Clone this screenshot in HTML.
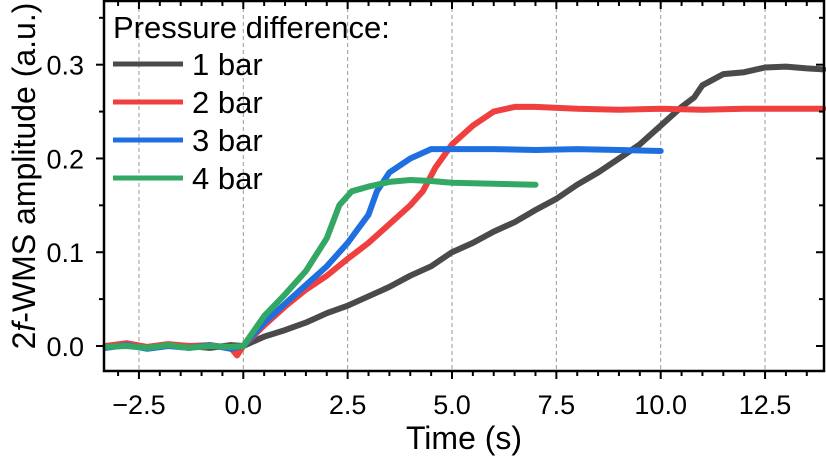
<!DOCTYPE html>
<html><head><meta charset="utf-8"><style>
html,body{margin:0;padding:0;background:#fff;}
svg{display:block;font-family:"Liberation Sans",Arial,sans-serif;}
</style></head><body>
<svg id="chart" width="826" height="457" viewBox="0 0 826 457" xmlns="http://www.w3.org/2000/svg">
<g id="grid"></g>
<g id="series"></g>
<rect x="104" y="1" width="720" height="370" fill="none" stroke="#000" stroke-width="2.5"/>
<g id="ticks"></g>
<text x="464" y="449" font-size="32" text-anchor="middle">Time (s)</text>
<text transform="translate(35,176) rotate(-90)" font-size="32" text-anchor="middle">2<tspan font-style="italic">f</tspan>-WMS amplitude (a.u.)</text>
<g>
<text x="113" y="38" font-size="31">Pressure difference:</text>
</g>
<g id="legend-entries"></g>
</svg>
<script>
const xTicks = [-2.5, 0.0, 2.5, 5.0, 7.5, 10.0, 12.5];
const xTickLabels = ["\u22122.5", "0.0", "2.5", "5.0", "7.5", "10.0", "12.5"];
const yTicks = [0.0, 0.1, 0.2, 0.3];
const yTickLabels = ["0.0", "0.1", "0.2", "0.3"];
const seriesNames = ["1 bar", "2 bar", "3 bar", "4 bar"];
const seriesColors = ["#4a4a4a", "#ef3f3f", "#1f6fe0", "#33a865"];
const t1 = [-3.3,-2.8,-2.3,-1.8,-1.3,-0.8,-0.3,0,0.5,1,1.5,2,2.5,3,3.5,4,4.5,5,5.5,6,6.5,7,7.5,8,8.5,9,9.5,10,10.5,10.8,11,11.5,12,12.5,13,13.5,13.9];
const v1 = [0,0.002,-0.002,0.001,0,-0.002,0.001,0,0.01,0.017,0.025,0.035,0.043,0.053,0.063,0.075,0.085,0.1,0.11,0.122,0.132,0.145,0.157,0.172,0.185,0.2,0.215,0.235,0.255,0.265,0.278,0.29,0.292,0.297,0.298,0.296,0.295];
const t2 = [-3.3,-2.8,-2.3,-1.8,-1.3,-0.8,-0.3,-0.15,0,0.5,1,1.5,2,2.5,3,3.5,4,4.3,4.6,5,5.5,6,6.5,7,8,9,10,11,12,13,13.9];
const v2 = [0,0.003,-0.001,0.002,0,0.001,-0.002,-0.01,0,0.022,0.042,0.06,0.075,0.093,0.11,0.13,0.15,0.165,0.19,0.215,0.235,0.25,0.255,0.255,0.253,0.252,0.253,0.252,0.253,0.253,0.253];
const t3 = [-3.3,-2.8,-2.3,-1.8,-1.3,-0.8,-0.3,0,0.5,1,1.5,2,2.5,3,3.2,3.5,4,4.5,5,6,7,8,9,10];
const v3 = [-0.002,0.001,-0.003,0,-0.002,0.001,-0.003,0,0.025,0.045,0.065,0.085,0.11,0.14,0.165,0.185,0.2,0.21,0.21,0.21,0.209,0.21,0.209,0.208];
const t4 = [-3.3,-2.8,-2.3,-1.8,-1.3,-0.8,-0.3,0,0.5,1,1.5,2,2.3,2.6,3,3.5,4,4.5,5,6,7];
const v4 = [-0.001,0,-0.002,0.001,-0.002,0,-0.001,0,0.032,0.055,0.08,0.115,0.15,0.165,0.17,0.175,0.177,0.176,0.174,0.173,0.172];
const seriesT = [t1, t2, t3, t4];
const seriesV = [v1, v2, v3, v4];

const NS = "http://www.w3.org/2000/svg";
const X0 = 243.3, XS = 41.74, Y0 = 346, YS = 937.7;
function sx(t){ return X0 + t * XS; }
function sy(v){ return Y0 - v * YS; }
function mk(tag, attrs, parent){ const e = document.createElementNS(NS, tag); for (const k in attrs) e.setAttribute(k, attrs[k]); parent.appendChild(e); return e; }

const grid = document.getElementById('grid');
xTicks.forEach((t) => {
  const l = mk('line', {x1: sx(t), x2: sx(t), y1: 1, y2: 371, stroke: '#999', 'stroke-width': 1, 'stroke-dasharray': '4,3'}, grid);
  
  
});

const ticks = document.getElementById('ticks');
for (let t = -3.0; t <= 13.9; t += 0.5) {
  const major = Math.abs(t / 2.5 - Math.round(t / 2.5)) < 1e-6;
  const len = major ? 8 : 5;
  const b = mk('line', {x1: sx(t), x2: sx(t), y1: 371, y2: 371 + len, stroke: '#000', 'stroke-width': 2}, ticks);
  
  
  const tp = mk('line', {x1: sx(t), x2: sx(t), y1: 1, y2: 1 + len, stroke: '#000', 'stroke-width': 2}, ticks);
  
  
}
for (let v = 0; v <= 0.36; v += 0.05) {
  const major = Math.abs(v * 10 - Math.round(v * 10)) < 1e-6;
  const len = major ? 8 : 5;
  const l = mk('line', {x1: 104 - len, x2: 104, y1: sy(v), y2: sy(v), stroke: '#000', 'stroke-width': 2}, ticks);
  
  
  const r = mk('line', {x1: 824 - len, x2: 824, y1: sy(v), y2: sy(v), stroke: '#000', 'stroke-width': 2}, ticks);
  
  
}
xTicks.forEach((t, i) => {
  const tx = mk('text', {x: sx(t), y: 414, 'font-size': 27, 'text-anchor': 'middle'}, ticks);
  tx.textContent = xTickLabels[i];
  
  
});
yTicks.forEach((v, i) => {
  const tx = mk('text', {x: 84, y: sy(v) + 10, 'font-size': 27, 'text-anchor': 'end'}, ticks);
  tx.textContent = yTickLabels[i];
  
  
});

const sg = document.getElementById('series');
seriesT.forEach((ts, i) => {
  const pts = ts.map((t, j) => sx(t).toFixed(1) + ',' + sy(seriesV[i][j]).toFixed(1)).join(' ');
  const p = mk('polyline', {points: pts, fill: 'none', stroke: seriesColors[i], 'stroke-width': 6, 'stroke-linejoin': 'round', 'stroke-linecap': 'round'}, sg);
  
  
});

const lg = document.getElementById('legend-entries');
seriesNames.forEach((n, i) => {
  const y = 64 + i * 38;
  const l = mk('line', {x1: 113, x2: 183, y1: y, y2: y, stroke: seriesColors[i], 'stroke-width': 5}, lg);
  
  
  const tx = mk('text', {x: 192, y: y + 11, 'font-size': 31}, lg);
  tx.textContent = n;
  
  
});
</script>
</body></html>
